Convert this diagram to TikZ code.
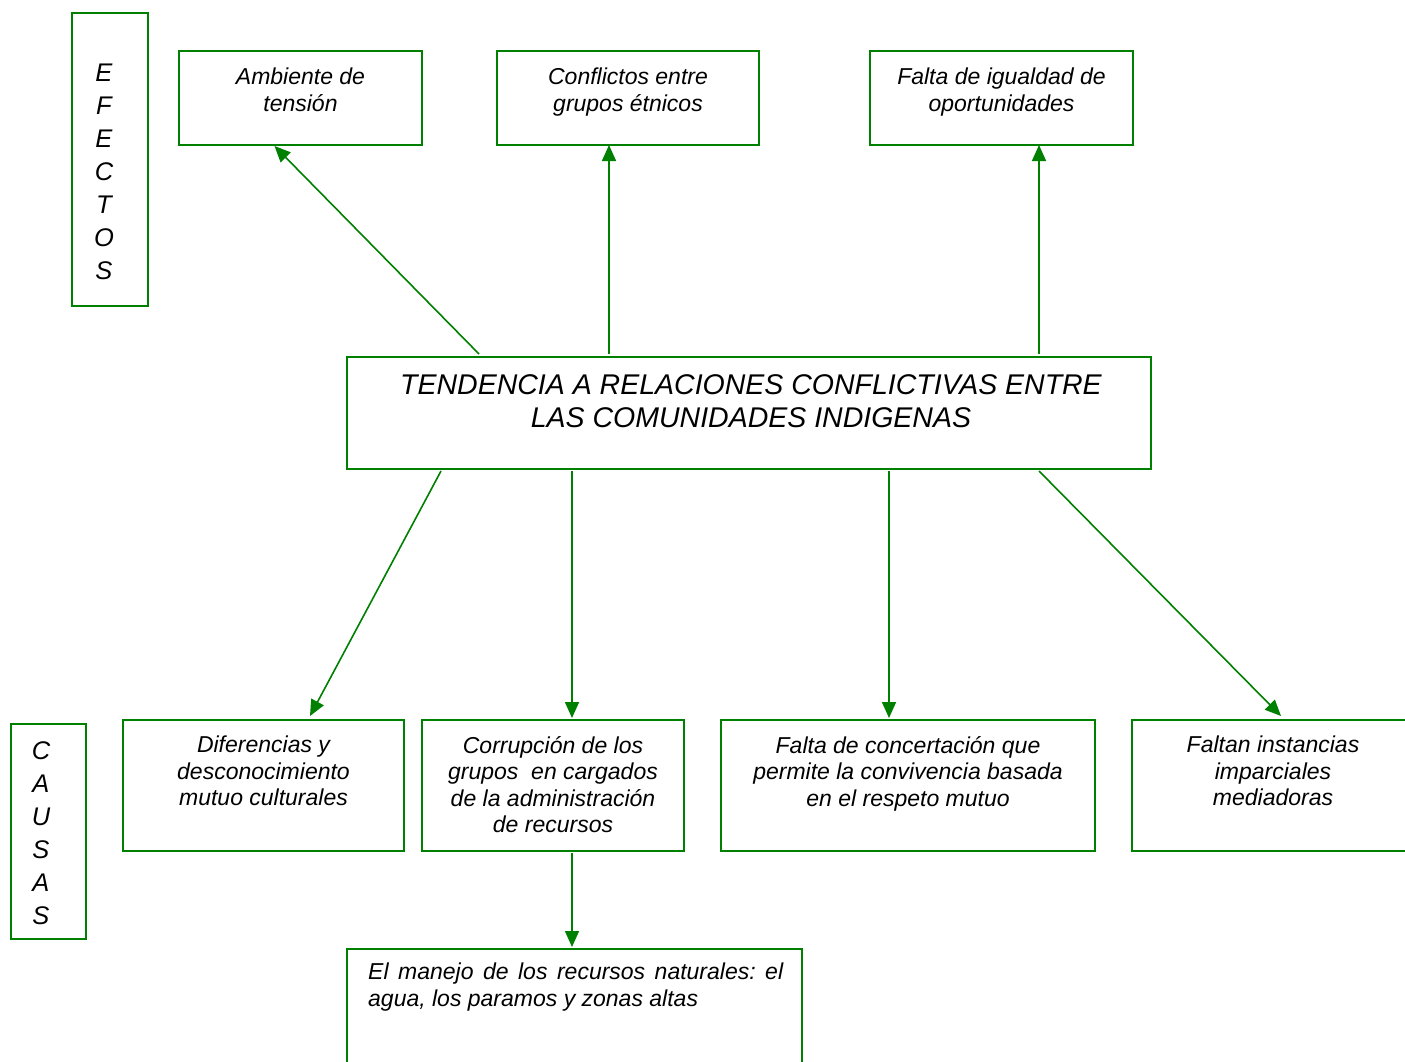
\documentclass[tikz,border=0pt]{standalone}
\usepackage{fontspec}
\setmainfont{Liberation Sans}
\usetikzlibrary{arrows.meta,calc}
\definecolor{gr}{HTML}{008000}
\frenchspacing
\begin{document}
\begin{tikzpicture}[x=1pt,y=-1pt,
 box/.style={draw=gr,line width=2pt,inner sep=0pt,outer sep=0pt,anchor=north west},
 txt/.style={inner sep=0pt,anchor=north,align=center,font=\fontsize{23}{26.5}\selectfont\itshape},
 big/.style={inner sep=0pt,anchor=north,align=center,font=\fontsize{28.5}{33}\selectfont\itshape},
 lett/.style={inner sep=0pt,align=center,font=\fontsize{25.5}{33}\selectfont\itshape},
 arr/.style={draw=gr,line width=1.6pt,-{Triangle[length=16pt,width=14pt]}}]
\useasboundingbox (0,0) rectangle (1405,1062);
\clip (0,0) rectangle (1405,1062);
% boxes
\node[box,minimum width=76,minimum height=293] (efe) at (72,13) {};
\node[box,minimum width=243,minimum height=94] (amb) at (179,51) {};
\node[box,minimum width=262,minimum height=94] (con) at (497,51) {};
\node[box,minimum width=263,minimum height=94] (fal) at (870,51) {};
\node[box,minimum width=804,minimum height=112] (main) at (347,357) {};
\node[box,minimum width=75,minimum height=215] (cau) at (11,724) {};
\node[box,minimum width=281,minimum height=131] (dif) at (123,720) {};
\node[box,minimum width=262,minimum height=131] (cor) at (422,720) {};
\node[box,minimum width=374,minimum height=131] (conc) at (721,720) {};
\node[box,minimum width=282,minimum height=131] (fin) at (1132,720) {};
\node[box,minimum width=455,minimum height=150] (man) at (347,949) {};
% texts
\node[lett] (efet) at (104,171.5) {E\\F\\E\\C\\T\\O\\S};
\node[lett] (caut) at (41,833) {C\\A\\U\\S\\A\\S};
\node[txt] (ambt) at ([yshift=-17pt]amb.north) {Ambiente de\\tensión};
\node[txt] (cont) at ([yshift=-17pt]con.north) {Conflictos entre\\grupos étnicos};
\node[txt] (falt) at ([yshift=-17pt]fal.north) {Falta de igualdad de\\oportunidades};
\node[big] (maint) at ([xshift=2pt,yshift=-17pt]main.north) {TENDENCIA A RELACIONES CONFLICTIVAS ENTRE\\LAS COMUNIDADES INDIGENAS};
\node[txt] (dift) at ([yshift=-16pt]dif.north) {Diferencias y\\desconocimiento\\mutuo culturales};
\node[txt] (cort) at ([yshift=-16pt]cor.north) {Corrupción de los\\grupos \ en cargados\\de la administración\\de recursos};
\node[txt] (conct) at ([yshift=-16pt]conc.north) {Falta de concertación que\\permite la convivencia basada\\en el respeto mutuo};
\node[txt] (fint) at ([yshift=-16pt]fin.north) {Faltan instancias\\imparciales\\mediadoras};
\node[txt,anchor=north west,text width=415pt,align=justify] (mant) at ([xshift=21pt,yshift=-14pt]man.north west) {El manejo de los recursos naturales: el\linebreak agua, los paramos y zonas altas};
% connector ends
\coordinate (s1) at (479,354);
\coordinate (s2) at (609,354);
\coordinate (s3) at (1039,354);
\coordinate (b1) at (441,471);
\coordinate (b2) at (572,471);
\coordinate (b3) at (889,471);
\coordinate (b4) at (1039,471);
\coordinate (b5) at (572,853);
\draw[arr] (s1) -- ([xshift=-26pt,yshift=-1pt]amb.south);
\draw[arr] (s2) -- (s2 |- con.south);
\draw[arr] (s3) -- (s3 |- fal.south);
\draw[arr] (b1) -- ([xshift=-94pt,yshift=4pt]dif.north east);
\draw[arr] (b2) -- ([yshift=2pt]b2 |- cor.north);
\draw[arr] (b3) -- ([yshift=2pt]b3 |- conc.north);
\draw[arr] (b4) -- ([xshift=149pt,yshift=4pt]fin.north west);
\draw[arr] (b5) -- ([yshift=2pt]b5 |- man.north);
\end{tikzpicture}
\end{document}
